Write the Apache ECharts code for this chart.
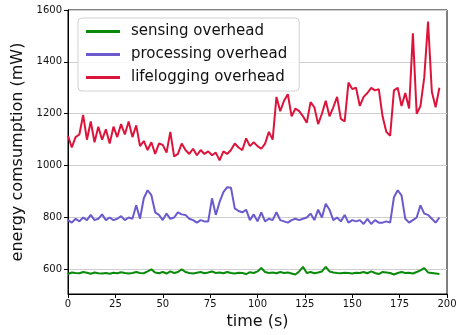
<!DOCTYPE html>
<html>
<head>
<meta charset="utf-8">
<script src="https://cdn.jsdelivr.net/npm/echarts@6/dist/echarts.min.js"></script>
<style>
  html, body { margin: 0; padding: 0; background: #fff; }
  #chart { width: 471px; height: 335px; }
</style>
</head>
<body>
<div id="chart"></div>
<script>
// time in seconds, sampled every 2 s
var times = [];
for (var i = 0; i < 99; i++) times.push(i * 2);

var sensing = [582, 588, 586, 585, 590, 587, 583, 588, 585, 584, 586, 583, 587, 585, 589, 586, 584, 586, 590, 586,
  585, 592, 600, 588, 585, 590, 584, 592, 586, 590, 600, 590, 586, 584, 587, 590, 585, 588, 592, 586,
  588, 585, 590, 586, 584, 587, 586, 582, 589, 586, 592, 605, 590, 586, 588, 585, 590, 586, 588, 584,
  580, 592, 610, 586, 590, 585, 588, 592, 610, 592, 588, 586, 585, 587, 586, 584, 587, 586, 590, 585,
  592, 586, 582, 590, 588, 586, 580, 586, 590, 586, 587, 584, 590, 596, 605, 588, 586, 584, 582];

var processing = [790, 780, 795, 785, 800, 790, 810, 790, 795, 812, 790, 800, 790, 795, 805, 790, 800, 795, 847, 795,
  874, 905, 886, 820, 810, 790, 815, 795, 800, 820, 812, 810, 795, 790, 780, 790, 785, 785, 874, 810,
  860, 898, 917, 915, 835, 825, 820, 830, 790, 812, 785, 820, 785, 795, 790, 820, 790, 785, 780, 790,
  795, 790, 795, 800, 815, 790, 830, 800, 853, 830, 790, 800, 785, 810, 780, 790, 785, 790, 775, 795,
  775, 790, 780, 780, 785, 780, 878, 905, 885, 795, 780, 790, 800, 847, 815, 810, 795, 780, 800];

var lifelogging = [1115, 1070, 1110, 1120, 1195, 1100, 1170, 1090, 1150, 1100, 1140, 1085, 1150, 1110, 1160, 1120, 1170, 1110, 1155, 1075,
  1095, 1060, 1090, 1045, 1085, 1080, 1050, 1130, 1035, 1045, 1085, 1060, 1045, 1065, 1040, 1060, 1045, 1055, 1040, 1050,
  1020, 1055, 1045, 1060, 1085, 1070, 1060, 1105, 1075, 1090, 1075, 1065, 1085, 1130, 1100, 1265, 1210, 1250, 1275, 1190,
  1220, 1210, 1190, 1165, 1245, 1225, 1160, 1200, 1250, 1190, 1225, 1265, 1180, 1170, 1320, 1295, 1300, 1230, 1265, 1280,
  1300, 1290, 1295, 1190, 1130, 1115, 1290, 1300, 1230, 1280, 1220, 1510, 1200, 1230, 1340, 1555, 1285, 1225, 1300];

var yTicks = [600, 800, 1000, 1200, 1400, 1600];

function pairs(vals) {
  return vals.map(function (v, i) { return [times[i], v]; });
}

var chart = echarts.init(document.getElementById('chart'));
var font = 'DejaVu Sans';

var option = {
  animation: false,
  textStyle: { fontFamily: font },
  grid: {
    left: 68, right: 24, top: 10, bottom: 41,
    show: true, borderColor: '#000', borderWidth: 1, backgroundColor: 'transparent'
  },
  legend: {
    orient: 'vertical',
    left: 78, top: 18,
    padding: [6, 12, 6, 8],
    itemGap: 8,
    itemWidth: 34, itemHeight: 3,
    icon: 'rect',
    backgroundColor: 'rgba(255,255,255,0.85)',
    borderColor: '#d0d0d0', borderWidth: 1, borderRadius: 4,
    textStyle: { fontFamily: font, fontSize: 15, color: '#111', padding: [0, 0, 0, 6] },
    data: ['sensing overhead', 'processing overhead', 'lifelogging overhead']
  },
  xAxis: {
    type: 'value', min: 0, max: 200, interval: 25,
    name: 'time (s)', nameLocation: 'middle', nameGap: 20,
    nameTextStyle: { fontFamily: font, fontSize: 16, color: '#111' },
    axisLine: { show: true, onZero: false, lineStyle: { color: '#000', width: 1 } },
    axisTick: { show: true, length: 4, lineStyle: { color: '#000' } },
    axisLabel: { fontFamily: font, fontSize: 10, color: '#111', margin: 5 },
    splitLine: { show: false }
  },
  yAxis: {
    type: 'value', min: 505, max: 1600,
    name: 'energy comsumption (mW)', nameLocation: 'middle', nameGap: 31,
    nameTextStyle: { fontFamily: font, fontSize: 16, color: '#111' },
    axisLine: { show: true, lineStyle: { color: '#000', width: 1 } },
    axisTick: { show: true, length: 4, customValues: yTicks, lineStyle: { color: '#000' } },
    axisLabel: {
      fontFamily: font, fontSize: 10, color: '#111', margin: 6, customValues: yTicks,
      formatter: function (v) { return String(v); }
    },
    splitLine: { show: true, lineStyle: { color: '#cfcfcf', width: 1 } }
  },
  series: [
    {
      name: 'sensing overhead', type: 'line', showSymbol: false,
      color: '#0a8a0a', lineStyle: { width: 2 },
      data: pairs(sensing)
    },
    {
      name: 'processing overhead', type: 'line', showSymbol: false,
      color: '#6a5acd', lineStyle: { width: 2 },
      data: pairs(processing)
    },
    {
      name: 'lifelogging overhead', type: 'line', showSymbol: false,
      color: '#dc143c', lineStyle: { width: 2 },
      data: pairs(lifelogging)
    }
  ]
};

chart.setOption(option);
</script>
</body>
</html>
